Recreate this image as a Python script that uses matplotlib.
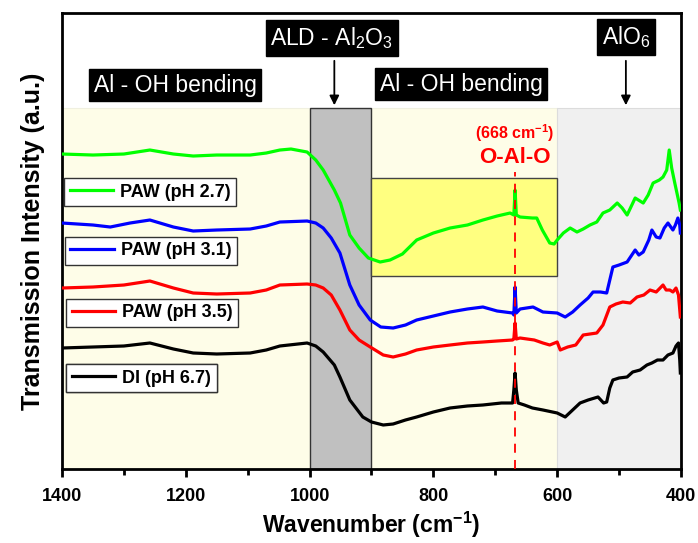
import numpy as np
import matplotlib
matplotlib.use('Agg')
import matplotlib.pyplot as plt
from matplotlib.patches import Rectangle

plt.rcParams['font.family'] = ['Liberation Sans', 'DejaVu Sans']
plt.rcParams['mathtext.fontset'] = 'custom'
plt.rcParams['mathtext.rm'] = 'Liberation Sans'
plt.rcParams['mathtext.bf'] = 'Liberation Sans:bold'

# FTIR spectra (offset, a.u.)
wn_paw27 = [1400, 1350, 1300, 1258, 1220, 1188, 1150, 1096, 1070, 1048, 1030, 1004, 990, 978, 960, 950,
            935, 920, 905, 886, 870, 850, 827, 800, 773, 745, 720, 697, 676, 670, 668, 666, 660, 640,
            633, 624, 612, 605, 600, 590, 579, 568, 558, 547, 536, 526, 515, 503, 495, 487, 474, 461,
            453, 445, 435, 429, 423, 419, 415, 410, 403, 401]
paw27 = [315, 314, 315, 319, 315, 313, 314, 314, 316, 319, 320, 317, 309, 299, 279, 266,
         234, 221, 211, 207, 209, 215, 229, 236, 241, 244, 249, 253, 256, 254, 279, 254, 252, 251,
         251, 239, 226, 225, 229, 236, 241, 237, 240, 244, 247, 256, 259, 266, 261, 254, 271, 266,
         274, 286, 289, 292, 299, 319, 301, 286, 266, 259]

wn_paw31 = [1400, 1350, 1322, 1290, 1258, 1220, 1188, 1150, 1096, 1070, 1048, 1004, 990, 978, 965, 951,
            935, 920, 902, 885, 865, 845, 827, 800, 773, 745, 720, 697, 672, 670, 668, 666, 660, 639,
            623, 600, 587, 575, 563, 550, 542, 530, 520, 515, 510, 500, 487, 474, 468, 461, 452, 447,
            440, 434, 427, 421, 413, 409, 405, 402, 401]
paw31 = [246, 244, 242, 246, 249, 242, 238, 239, 240, 243, 247, 248, 246, 241, 231, 216,
         184, 164, 149, 142, 141, 144, 149, 153, 157, 160, 162, 158, 156, 154, 182, 156, 160, 162,
         157, 156, 152, 157, 164, 171, 177, 177, 176, 189, 202, 204, 207, 219, 214, 217, 229, 239,
         232, 231, 241, 246, 239, 244, 251, 244, 236]

wn_paw35 = [1400, 1350, 1300, 1258, 1220, 1188, 1150, 1096, 1070, 1048, 1004, 990, 978, 965, 951, 935,
            920, 902, 881, 865, 845, 827, 800, 773, 745, 720, 697, 672, 670, 668, 666, 660, 637, 623,
            612, 600, 595, 583, 570, 558, 547, 536, 526, 515, 505, 494, 482, 471, 460, 450, 440, 429,
            424, 418, 413, 408, 404, 401]
paw35 = [181, 182, 184, 188, 181, 176, 175, 176, 179, 184, 185, 184, 181, 174, 159, 139,
         129, 122, 114, 112, 115, 119, 122, 124, 126, 127, 128, 129, 130, 146, 130, 131, 129, 126,
         124, 127, 119, 122, 124, 134, 135, 136, 144, 162, 165, 167, 166, 172, 174, 179, 177, 184,
         179, 179, 177, 181, 174, 152]

wn_di = [1400, 1350, 1300, 1258, 1220, 1188, 1150, 1096, 1070, 1048, 1004, 990, 978, 960, 951, 935,
         914, 900, 881, 865, 845, 827, 800, 773, 745, 720, 690, 672, 670, 668, 666, 663, 653, 640,
         623, 600, 587, 575, 563, 550, 534, 525, 520, 515, 510, 500, 487, 478, 466, 455, 447, 438,
         429, 421, 413, 408, 404, 402, 401]
di = [121, 122, 123, 126, 120, 116, 115, 116, 119, 123, 126, 123, 117, 104, 92, 69,
      52, 47, 44, 45, 49, 52, 57, 61, 63, 64, 66, 66, 79, 96, 79, 66, 64, 61,
      59, 56, 52, 59, 66, 69, 72, 66, 67, 81, 89, 91, 92, 97, 99, 104, 106, 109,
      109, 114, 116, 123, 126, 109, 96]

labels = ['PAW (pH 2.7)', 'PAW (pH 3.1)', 'PAW (pH 3.5)', 'DI (pH 6.7)']
colors = ['#00ff00', '#0000ff', '#ff0000', '#000000']

fig = plt.figure(figsize=(6.98, 5.43), dpi=100)
ax = fig.add_axes([0.0888, 0.1363, 0.8868, 0.8397])

top = 361
# spectral regions
ax.add_patch(Rectangle((1000, 0), 400, top, facecolor='#fefde8', edgecolor='#f0f0e0', lw=0.8, zorder=0))
ax.add_patch(Rectangle((600, 0), 300, top, facecolor='#fefde8', edgecolor='#f0f0e0', lw=0.8, zorder=0))
ax.add_patch(Rectangle((400, 0), 200, top, facecolor='#f0f0f0', edgecolor='#dcdcdc', lw=0.8, zorder=0))
ax.add_patch(Rectangle((900, 0), 100, top, facecolor='#c0c0c0', edgecolor='#333333', lw=1.0, zorder=0))
ax.add_patch(Rectangle((600, 193), 300, 98, facecolor='#ffff80', edgecolor='#444444', lw=1.0, zorder=1))

series = [(wn_paw27, paw27), (wn_paw31, paw31), (wn_paw35, paw35), (wn_di, di)]
lines = []
for (x, y), c, lab in zip(series, colors, labels):
    ln, = ax.plot(x, y, color=c, lw=2.3, zorder=3, label=lab)
    lines.append(ln)

# O-Al-O marker
ax.plot([668, 668], [0, 297], color='#ff0000', lw=1.3, ls=(0, (5, 4)), zorder=4)
ax.text(668, 336, r'(668 cm$^{\mathbf{-1}}$)', color='#ff0000', fontsize=11.5, fontweight='bold',
        ha='center', va='center')
ax.text(668, 312, 'O-Al-O', color='#ff0000', fontsize=16, fontweight='bold', ha='center', va='center')

# region labels
box = dict(facecolor='black', edgecolor='black', boxstyle='square,pad=0.2')
ax.text(1217, 384, 'Al - OH bending', color='white', fontsize=16.5, ha='center', va='center', bbox=box)
ax.text(755, 385, 'Al - OH bending', color='white', fontsize=16.5, ha='center', va='center', bbox=box)
ax.text(964, 431, r'ALD - Al$_2$O$_3$', color='white', fontsize=16.5, ha='center', va='center', bbox=box)
ax.text(489, 432, r'AlO$_6$', color='white', fontsize=16.5, ha='center', va='center', bbox=box)
for xa in [960, 489]:
    ax.annotate('', xy=(xa, top), xytext=(xa, 411),
                arrowprops=dict(arrowstyle='-|>', color='black', lw=1.3, mutation_scale=14))

# one legend box per spectrum
legend_pos = [(0.004, 0.638), (0.005, 0.509), (0.007, 0.373), (0.007, 0.230)]
for ln, pos in zip(lines, legend_pos):
    leg = ax.legend(handles=[ln], loc='upper left', bbox_to_anchor=pos, borderaxespad=0,
                    frameon=True, fancybox=False, framealpha=1, edgecolor='#333333',
                    prop={'weight': 'bold', 'size': 13}, handlelength=2.4, handletextpad=0.4,
                    borderpad=0.3)
    leg.get_frame().set_linewidth(1.0)
    leg.set_zorder(5)
    ax.add_artist(leg)

ax.set_xlim(1400, 400)
ax.set_ylim(0, 456)
ax.set_xticks([1400, 1200, 1000, 800, 600, 400])
ax.set_xticks([1300, 1100, 900, 700, 500], minor=True)
ax.set_yticks([])
ax.tick_params(axis='x', which='major', direction='out', length=6, width=2, labelsize=13, pad=8)
ax.tick_params(axis='x', which='minor', direction='out', length=4, width=2)
for lab in ax.get_xticklabels():
    lab.set_fontweight('bold')
for sp in ax.spines.values():
    sp.set_linewidth(2)

ax.set_xlabel(r'Wavenumber (cm$^{\mathbf{-1}}$)', fontsize=16.5, fontweight='bold', labelpad=3)
ax.set_ylabel('Transmission Intensity (a.u.)', fontsize=18, fontweight='bold', labelpad=12)

fig.savefig('out.png', dpi=100)
